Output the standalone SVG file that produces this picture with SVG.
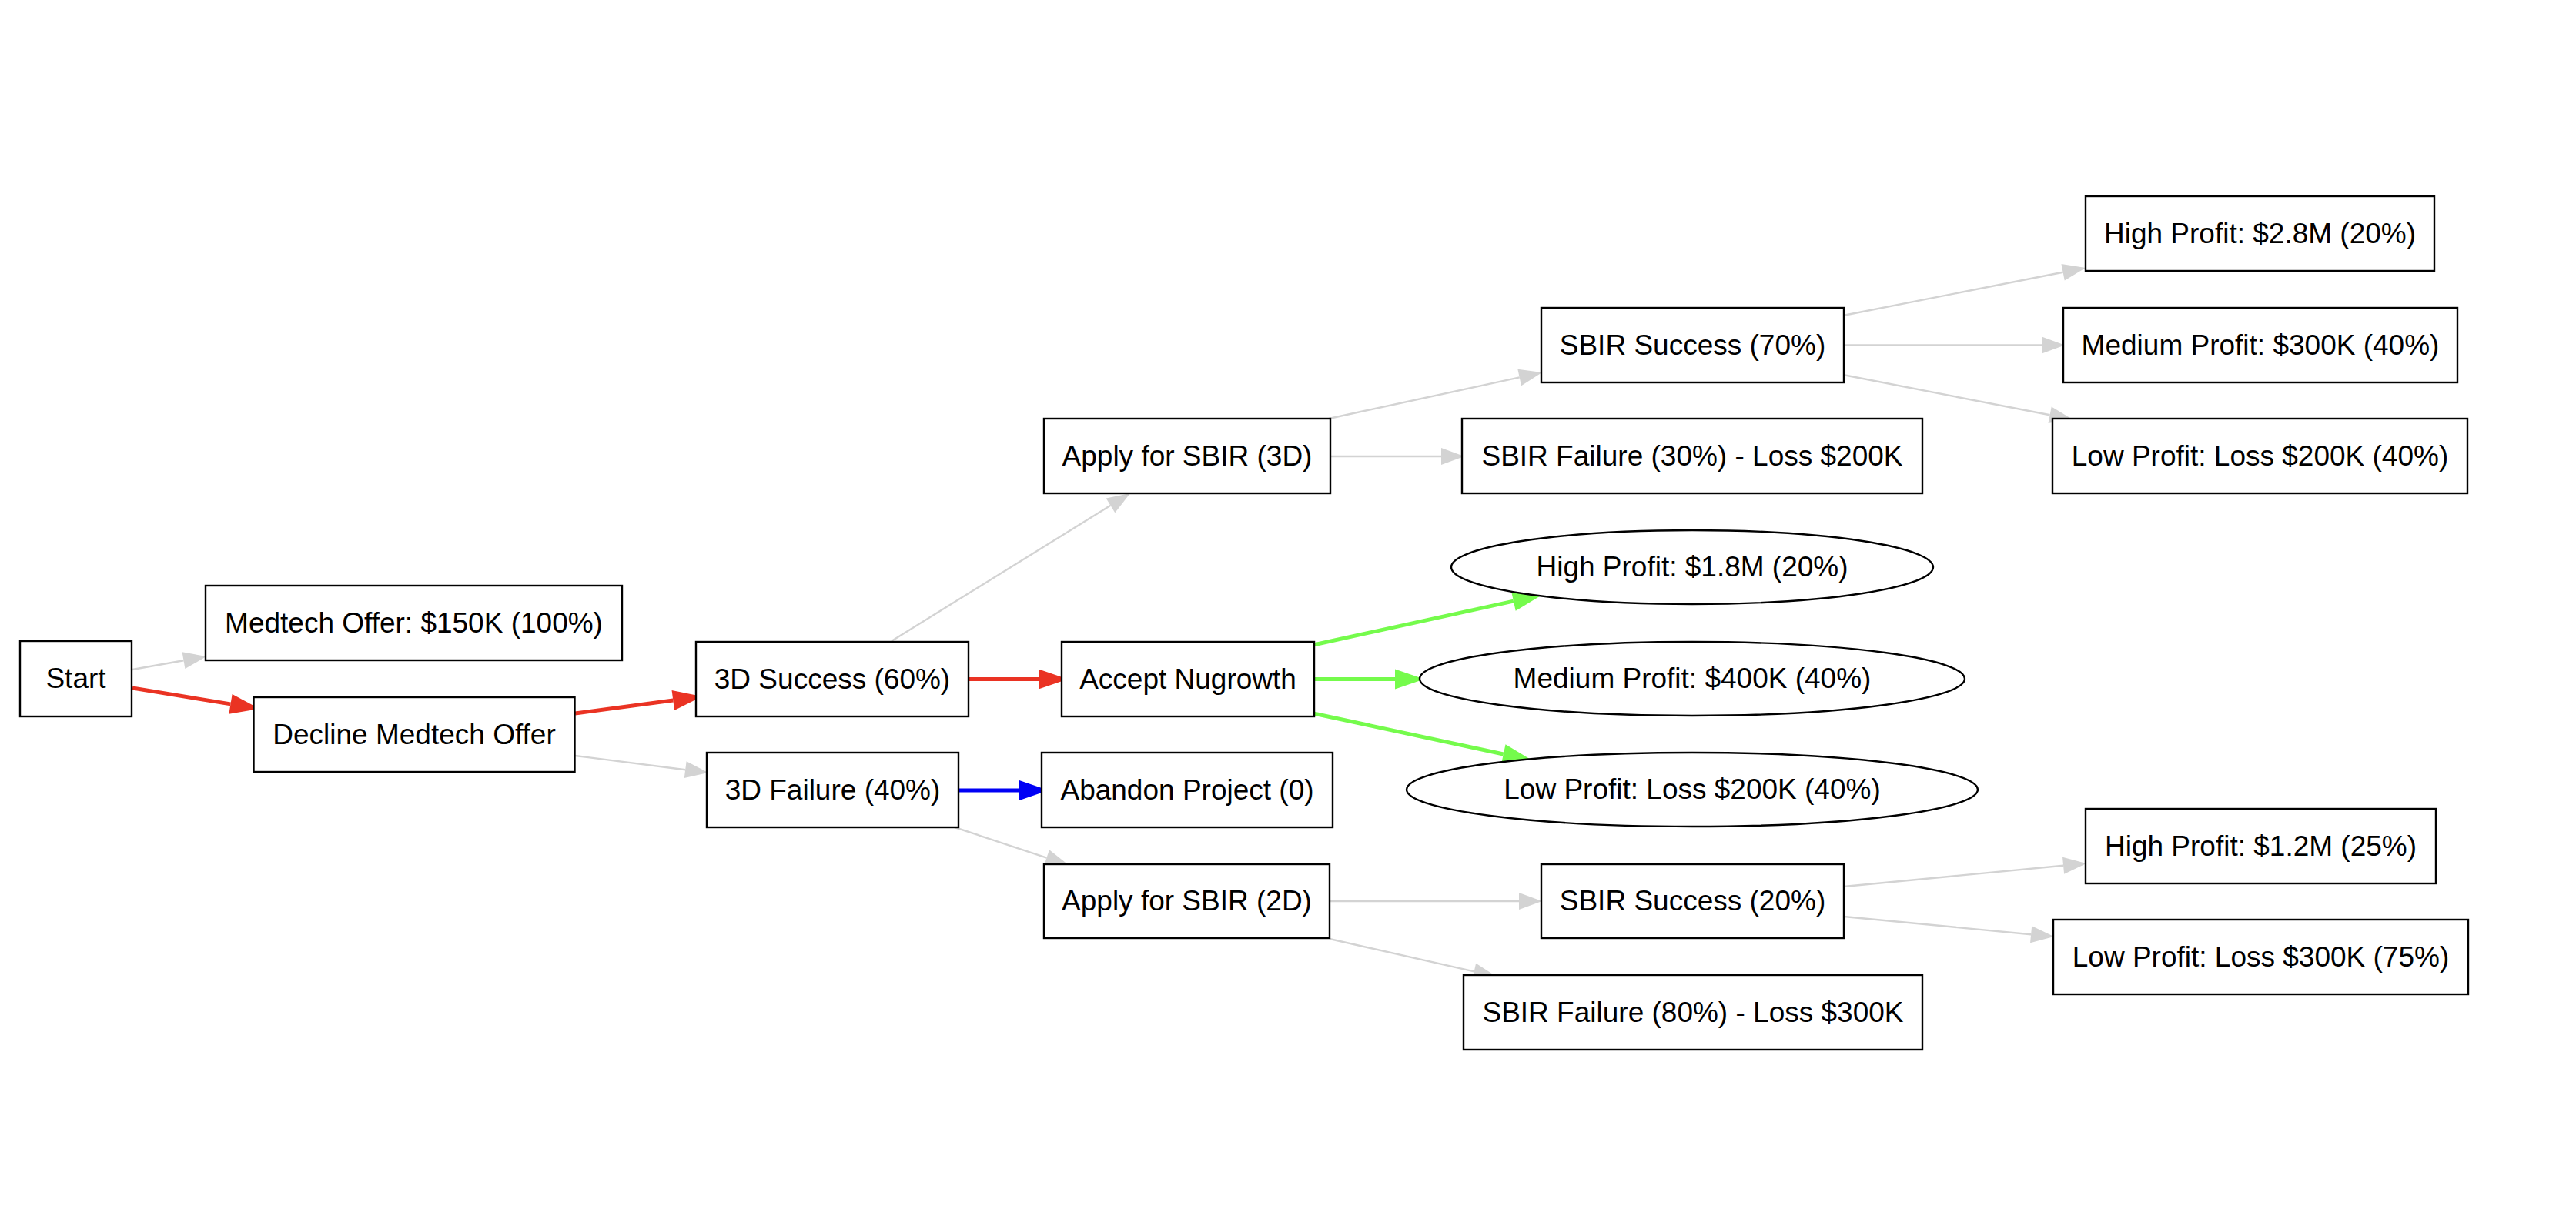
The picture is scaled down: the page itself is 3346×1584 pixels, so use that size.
<svg xmlns="http://www.w3.org/2000/svg" width="3346" height="1584" viewBox="0 0 3346 1584">
<style>
.n rect, .n ellipse { fill: #ffffff; stroke: #000000; stroke-width: 2.4; }
.n text { font-family: "Liberation Sans", Arial, Helvetica, sans-serif; font-size: 37px; fill: #000000; text-anchor: middle; }
.e { fill: none; }
.gray { stroke: #d3d3d3; stroke-width: 2.4; }
.red { stroke: #ea3323; stroke-width: 5; }
.green { stroke: #75fb4c; stroke-width: 5; }
.blue { stroke: #0000f5; stroke-width: 5; }
</style>
<defs>
<marker id="ag" markerUnits="userSpaceOnUse" markerWidth="32" markerHeight="24" refX="0" refY="11" orient="auto" overflow="visible"><path d="M0,0 L30,11 L0,22 z" fill="#d3d3d3"/></marker>
<marker id="ar" markerUnits="userSpaceOnUse" markerWidth="40" markerHeight="28" refX="0" refY="13" orient="auto" overflow="visible"><path d="M0,0 L38,13 L0,26 z" fill="#ea3323"/></marker>
<marker id="agr" markerUnits="userSpaceOnUse" markerWidth="40" markerHeight="28" refX="0" refY="13" orient="auto" overflow="visible"><path d="M0,0 L38,13 L0,26 z" fill="#75fb4c"/></marker>
<marker id="ab" markerUnits="userSpaceOnUse" markerWidth="40" markerHeight="28" refX="0" refY="13" orient="auto" overflow="visible"><path d="M0,0 L38,13 L0,26 z" fill="#0000f5"/></marker>
</defs>
<rect x="0" y="0" width="3346" height="1584" fill="#ffffff"/>
<g id="edges">
<path class="e gray" d="M172,870 L238.5,858.2" marker-end="url(#ag)"/>
<path class="e red" d="M172,894 L299.5,914.9" marker-end="url(#ar)"/>
<path class="e red" d="M747,927 L874.3,910" marker-end="url(#ar)"/>
<path class="e gray" d="M747,982 L890.2,1000.2" marker-end="url(#ag)"/>
<path class="e gray" d="M1158,833 L1442.5,656.8" marker-end="url(#ag)"/>
<path class="e red" d="M1258,882.5 L1349,882.5" marker-end="url(#ar)"/>
<path class="e blue" d="M1245,1027 L1324,1027" marker-end="url(#ab)"/>
<path class="e gray" d="M1240,1075 L1359.5,1114.6" marker-end="url(#ag)"/>
<path class="e gray" d="M1726,544 L1973.7,490.4" marker-end="url(#ag)"/>
<path class="e gray" d="M1727,593 L1872,593" marker-end="url(#ag)"/>
<path class="e green" d="M1706,838 L1965.9,781.1" marker-end="url(#agr)"/>
<path class="e green" d="M1706,882.5 L1812,882.5" marker-end="url(#agr)"/>
<path class="e green" d="M1706,927 L1952.8,980" marker-end="url(#agr)"/>
<path class="e gray" d="M1727,1171 L1973,1171" marker-end="url(#ag)"/>
<path class="e gray" d="M1727,1220 L1914.7,1262.4" marker-end="url(#ag)"/>
<path class="e gray" d="M2394,410 L2679.6,353.8" marker-end="url(#ag)"/>
<path class="e gray" d="M2395,448.5 L2652,448.5" marker-end="url(#ag)"/>
<path class="e gray" d="M2394,487 L2662.6,539.3" marker-end="url(#ag)"/>
<path class="e gray" d="M2395,1152 L2680.1,1124.8" marker-end="url(#ag)"/>
<path class="e gray" d="M2395,1191 L2638.1,1214.2" marker-end="url(#ag)"/>
</g>
<g id="start" class="n"><rect x="26" y="833" width="145" height="98"/><text x="98.5" y="894">Start</text></g>
<g id="medtech_offer" class="n"><rect x="267" y="761" width="541" height="97"/><text x="537.5" y="822">Medtech Offer: $150K (100%)</text></g>
<g id="decline_medtech" class="n"><rect x="329.5" y="906" width="417" height="97"/><text x="538" y="967">Decline Medtech Offer</text></g>
<g id="success_3d" class="n"><rect x="904" y="834" width="354" height="97"/><text x="1081" y="895">3D Success (60%)</text></g>
<g id="failure_3d" class="n"><rect x="918" y="978" width="327" height="97"/><text x="1081.5" y="1039">3D Failure (40%)</text></g>
<g id="apply_sbir_3d" class="n"><rect x="1356" y="544" width="372" height="97"/><text x="1542" y="605">Apply for SBIR (3D)</text></g>
<g id="accept_nugrowth" class="n"><rect x="1379" y="834" width="328" height="97"/><text x="1543" y="895">Accept Nugrowth</text></g>
<g id="abandon_project" class="n"><rect x="1353" y="978" width="378" height="97"/><text x="1542" y="1039">Abandon Project (0)</text></g>
<g id="apply_sbir_2d" class="n"><rect x="1356" y="1123" width="371" height="96"/><text x="1541.5" y="1183">Apply for SBIR (2D)</text></g>
<g id="sbir_success_70" class="n"><rect x="2002" y="400" width="393" height="97"/><text x="2198.5" y="461">SBIR Success (70%)</text></g>
<g id="sbir_failure_30" class="n"><rect x="1899" y="544" width="598" height="97"/><text x="2198" y="605">SBIR Failure (30%) - Loss $200K</text></g>
<g id="high_profit_18" class="n"><ellipse cx="2198" cy="737" rx="313" ry="48"/><text x="2198" y="749">High Profit: $1.8M (20%)</text></g>
<g id="medium_profit_400" class="n"><ellipse cx="2198" cy="882" rx="354" ry="48"/><text x="2198" y="894">Medium Profit: $400K (40%)</text></g>
<g id="low_profit_200_nug" class="n"><ellipse cx="2198" cy="1026" rx="371" ry="48"/><text x="2198" y="1038">Low Profit: Loss $200K (40%)</text></g>
<g id="sbir_success_20" class="n"><rect x="2002" y="1123" width="393" height="96"/><text x="2198.5" y="1183">SBIR Success (20%)</text></g>
<g id="sbir_failure_80" class="n"><rect x="1901" y="1267" width="596" height="97"/><text x="2199" y="1328">SBIR Failure (80%) - Loss $300K</text></g>
<g id="high_profit_28" class="n"><rect x="2709" y="255" width="453" height="97"/><text x="2935.5" y="316">High Profit: $2.8M (20%)</text></g>
<g id="medium_profit_300" class="n"><rect x="2680" y="400" width="512" height="97"/><text x="2936" y="461">Medium Profit: $300K (40%)</text></g>
<g id="low_profit_200_sbir" class="n"><rect x="2666" y="544" width="539" height="97"/><text x="2935.5" y="605">Low Profit: Loss $200K (40%)</text></g>
<g id="high_profit_12" class="n"><rect x="2709" y="1051" width="455" height="97"/><text x="2936.5" y="1112">High Profit: $1.2M (25%)</text></g>
<g id="low_profit_300" class="n"><rect x="2667" y="1195" width="539" height="97"/><text x="2936.5" y="1256">Low Profit: Loss $300K (75%)</text></g>
</svg>
